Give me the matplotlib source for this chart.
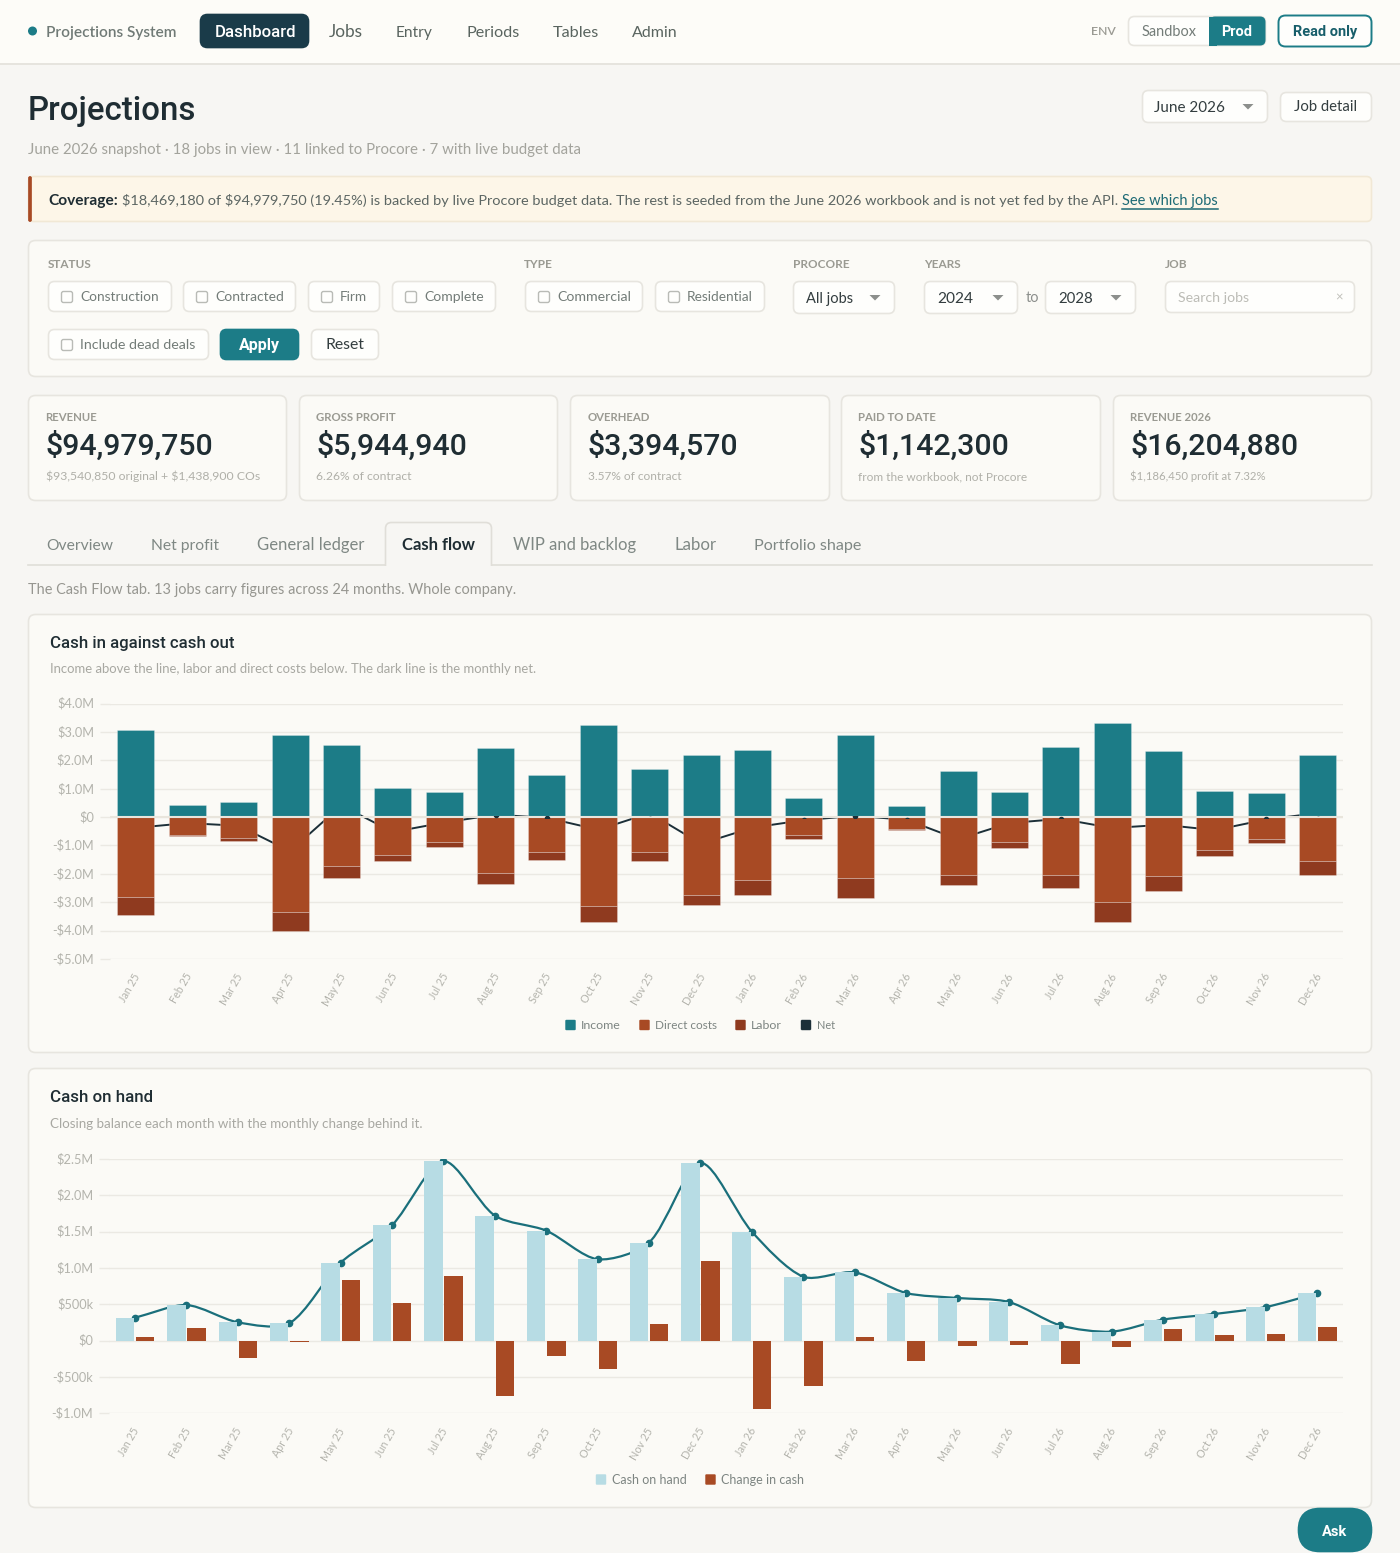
import matplotlib
matplotlib.use("Agg")
import matplotlib.pyplot as plt
from matplotlib.patches import FancyBboxPatch, Rectangle, Circle, Polygon
from matplotlib.path import Path
from matplotlib.patches import PathPatch
from matplotlib.transforms import ScaledTranslation

# ---------- data ----------
months = ["Jan 25","Feb 25","Mar 25","Apr 25","May 25","Jun 25","Jul 25","Aug 25","Sep 25","Oct 25","Nov 25","Dec 25",
          "Jan 26","Feb 26","Mar 26","Apr 26","May 26","Jun 26","Jul 26","Aug 26","Sep 26","Oct 26","Nov 26","Dec 26"]
income = [3.08,0.435,0.53,2.88,2.56,1.035,0.88,2.445,1.48,3.245,1.69,2.175,
          2.36,0.67,2.89,0.376,1.62,0.88,2.457,3.316,2.33,0.917,0.835,2.187]
direct_costs = [-2.80,-0.63,-0.74,-3.36,-1.74,-1.35,-0.87,-1.96,-1.235,-3.15,-1.235,-2.73,
                -2.21,-0.647,-2.15,-0.41,-2.045,-0.894,-2.045,-3.0,-2.08,-1.15,-0.776,-1.564]
labor = [-0.657,-0.02,-0.095,-0.66,-0.39,-0.21,-0.20,-0.40,-0.27,-0.54,-0.315,-0.385,
         -0.52,-0.129,-0.695,-0.06,-0.355,-0.196,-0.471,-0.70,-0.52,-0.226,-0.141,-0.482]
net = [-0.377,-0.21,-0.305,-1.2,0.41,-0.525,-0.19,0.085,-0.025,-0.445,0.14,-0.94,
       -0.37,-0.106,0.045,-0.094,-0.78,-0.21,-0.06,-0.384,-0.27,-0.459,-0.082,0.141]
cash_on_hand = [0.316,0.49,0.252,0.238,1.073,1.59,2.47,1.72,1.514,1.12,1.35,2.445,
                1.5,0.88,0.94,0.656,0.587,0.532,0.21,0.124,0.289,0.367,0.463,0.651]
change_in_cash = [0.05,0.17,-0.238,-0.012,0.83,0.514,0.885,-0.76,-0.206,-0.394,0.225,1.09,
                  -0.945,-0.62,0.05,-0.28,-0.073,-0.06,-0.32,-0.092,0.16,0.078,0.096,0.183]
ticks_top = [4,3,2,1,0,-1,-2,-3,-4,-5]
ticklabels_top = ["$4.0M","$3.0M","$2.0M","$1.0M","$0","-$1.0M","-$2.0M","-$3.0M","-$4.0M","-$5.0M"]
ticks_bottom = [2.5,2,1.5,1,0.5,0,-0.5,-1]
ticklabels_bottom = ["$2.5M","$2.0M","$1.5M","$1.0M","$500k","$0","-$500k","-$1.0M"]

# ---------- styles ----------
PAGE = "#f7f6f3"; HEAD = "#fdfcf8"; CARD = "#fbfaf6"; WHITE = "#fefefc"; BORDER = "#e7e5df"
TEAL = "#1c7c87"; NAVY = "#1a3b49"; RUST = "#a84a24"; LABOR = "#8f3a1f"; LIGHT = "#b7dce4"
INK = "#1f2d33"; MID = "#6f7a76"; SOFT = "#a3a39c"; GRID = "#ebe9e3"; TICK = "#b4b4ad"
BODY = "Lato"; HEADF = "Roboto"

W, H = 1400, 1553
fig = plt.figure(figsize=(W/100, H/100), dpi=100, facecolor=PAGE)
ui = fig.add_axes([0, 0, 1, 1], zorder=0)
ui.set_xlim(0, W); ui.set_ylim(H, 0); ui.axis("off")
rend = fig.canvas.get_renderer()

def box(x0, y0, x1, y1, fc=WHITE, ec=BORDER, r=6, lw=1.2, z=1):
    x0 += .5; y0 += .5; x1 -= .5; y1 -= .5
    ui.add_patch(FancyBboxPatch((x0+r, y0+r), x1-x0-2*r, y1-y0-2*r,
                                boxstyle=f"round,pad={r},rounding_size={r}",
                                fc=fc, ec=ec, lw=lw, zorder=z))

def txt(x, y, s, px=15, c=MID, w="normal", f=BODY, ha="left", z=5, fit=None):
    t = ui.text(x, y + 0.36*px, s, fontsize=px*0.72, color=c, fontweight=w, family=f,
                ha=ha, va="baseline", zorder=z, parse_math=False)
    if fit:
        k = fit / t.get_window_extent(rend).width
        t.set_fontsize(px*0.72*k)
    return t

def caret(cx, cy, c="#8c8f8c"):
    ui.add_patch(Polygon([(cx-5.5, cy-2.5), (cx+5.5, cy-2.5), (cx, cy+3)], fc=c, ec="none", zorder=5))

# header
ui.add_patch(Rectangle((0, 0), W, 63, fc=HEAD, ec="none", zorder=0.5))
ui.plot([0, W], [63.5, 63.5], color="#e6e4de", lw=1.4, zorder=1)
ui.add_patch(Circle((32.5, 31), 4.5, fc=TEAL, ec="none", zorder=2))
txt(46, 31.5, "Projections System", 15.5, "#707a76", "semibold", BODY, fit=131)
box(200, 14, 309, 48, fc=NAVY, ec=NAVY, r=7)
txt(255, 31, "Dashboard", 17, "#ffffff", "medium", HEADF, ha="center", fit=81)
for x, s, wd in [(329, "Jobs", 34), (396, "Entry", 37), (467, "Periods", 53), (553, "Tables", 46), (632, "Admin", 46)]:
    txt(x, 31, s, 17, "#59645f", "normal", BODY, fit=wd)
txt(1091, 31, "ENV", 11.5, "#9a9a93", "semibold", BODY, fit=25)
box(1128, 16, 1266, 46, fc=WHITE, r=6)
ui.add_patch(FancyBboxPatch((1215, 22), 45, 18, boxstyle="round,pad=5.5,rounding_size=5.5", fc=TEAL, ec="none", zorder=2))
ui.add_patch(Rectangle((1209, 16.5), 8, 29, fc=TEAL, ec="none", zorder=2))
txt(1169, 31, "Sandbox", 14.5, "#737c78", "normal", BODY, ha="center", fit=55)
txt(1237, 31, "Prod", 14.5, "#ffffff", "bold", HEADF, ha="center", fit=31)
box(1278, 15, 1372, 47, fc=WHITE, ec=TEAL, r=7, lw=1.4)
txt(1325, 31, "Read only", 15, "#175e6a", "bold", HEADF, ha="center", fit=64)

# title row
txt(28, 108, "Projections", 32, INK, "medium", HEADF, fit=168)
txt(28, 148, "June 2026 snapshot · 18 jobs in view · 11 linked to Procore · 7 with live budget data", 16, SOFT, fit=551)
box(1142, 90, 1268, 123, fc=WHITE, r=6)
txt(1154, 106.5, "June 2026", 16, "#333d3f", fit=71)
caret(1248, 106.5)
box(1280, 92, 1372, 122, fc=WHITE, r=6)
txt(1326, 106, "Job detail", 15, "#333d3f", ha="center", fit=63)

# coverage banner
box(28, 176, 1372, 222, fc="#fdf6e8", ec="#f1e8d5", r=5)
box(28, 176, 32, 222, fc=RUST, ec=RUST, r=1.5, lw=0.5, z=2)
txt(48, 199.5, "Coverage:", 15.5, INK, "bold", fit=70)
txt(122.5, 199.5, "$18,469,180 of $94,979,750 (19.45%) is backed by live Procore budget data. The rest is seeded from the June 2026 workbook and is not yet fed by the API.", 15, "#5c6663", fit=995)
txt(1122, 199.5, "See which jobs", 15, "#1d6a75", fit=96)
ui.plot([1122, 1218], [208.5, 208.5], color="#1d6a75", lw=1.1, zorder=5)

# filter card
box(28, 240, 1372, 377, fc=CARD, r=7)
for x, s in [(48, "STATUS"), (524, "TYPE"), (793, "PROCORE"), (924, "YEARS"), (1165, "JOB")]:
    txt(x, 263.5, s, 11.8, "#9a9a92", "bold")
chips = [(48, 172, 281, 312, "Construction", 79), (183, 296, 281, 312, "Contracted", 69), (308, 380, 281, 312, "Firm", 27),
         (392, 496, 281, 312, "Complete", 60), (525, 643, 281, 312, "Commercial", 74), (655, 765, 281, 312, "Residential", 66),
         (48, 209, 329, 360, "Include dead deals", 116)]
for x0, x1, y0, y1, s, wd in chips:
    box(x0, y0, x1, y1, fc=WHITE, r=6)
    cy = (y0+y1)/2 + 0.5
    box(x0+13, cy-6, x0+25, cy+6, fc=WHITE, ec="#b9bbb6", r=2, lw=1, z=2)
    txt(x0+32, cy-1, s, 14.8, "#737c78", fit=wd)
box(220, 329, 299, 360, fc=TEAL, ec=TEAL, r=6)
txt(259.5, 344, "Apply", 16, "#ffffff", "bold", HEADF, ha="center", fit=41)
box(311, 329, 379, 360, fc=WHITE, r=6)
txt(345, 344, "Reset", 15, "#333d3f", ha="center", fit=39)
for x0, x1, s, tx, cx, wd in [(793, 895, "All jobs", 806, 875, 47), (924, 1018, "2024", 937, 998, 36), (1045, 1136, "2028", 1058, 1116, 35)]:
    box(x0, 281, x1, 314, fc=WHITE, r=6)
    txt(tx, 297.5, s, 15.5, "#333d3f", fit=wd)
    caret(cx, 297.5)
txt(1032, 297, "to", 14.5, "#8c8f8c", ha="center")
box(1165, 281, 1355, 313, fc=WHITE, r=6)
txt(1178, 297, "Search jobs", 14.5, "#bcbcb6", fit=71)
txt(1339, 297, "×", 13, "#c0c0ba", ha="center")

# KPI cards
kpis = [(28, 287, "REVENUE", "$94,979,750", "$93,540,850 original + $1,438,900 COs", 217),
        (299, 558, "GROSS PROFIT", "$5,944,940", "6.26% of contract", 96),
        (570, 830, "OVERHEAD", "$3,394,570", "3.57% of contract", 94),
        (841, 1101, "PAID TO DATE", "$1,142,300", "from the workbook, not Procore", 169),
        (1113, 1372, "REVENUE 2026", "$16,204,880", "$1,186,450 profit at 7.32%", 137)]
for x0, x1, a, b, c, wc in kpis:
    box(x0, 395, x1, 501, fc=CARD, r=7)
    txt(x0+17.5, 416.5, a, 11.4, "#9a9a92", "bold")
    txt(x0+17.5, 443.5, b, 30.2, INK, "medium", HEADF)
    txt(x0+17.5, 475.5, c, 13.2, "#b0b0a9", fit=wc)

# tabs
ui.plot([28, 1372], [565, 565], color="#e0ded8", lw=1.2, zorder=1)
box(385, 522, 492, 575, fc=PAGE, ec="#e0ded8", r=6, z=1.2)
ui.add_patch(Rectangle((384, 565.7), 110, 12, fc=PAGE, ec="none", zorder=1.3))
for x, s, wd in [(46, "Overview", 67), (151, "Net profit", 68), (257, "General ledger", 107), (513, "WIP and backlog", 123), (674, "Labor", 42), (754, "Portfolio shape", 108)]:
    txt(x, 544.5, s, 16, "#7f8884", fit=wd)
txt(402, 544.5, "Cash flow", 16, INK, "bold", fit=73)
txt(28, 589, "The Cash Flow tab. 13 jobs carry figures across 24 months. Whole company.", 15, "#969690", fit=488)

# chart cards
box(28, 614, 1372, 1053, fc=CARD, r=7)
box(28, 1068, 1372, 1508, fc=CARD, r=7)
txt(50, 642, "Cash in against cash out", 18, INK, "medium", HEADF, fit=184)
txt(50, 668.5, "Income above the line, labor and direct costs below. The dark line is the monthly net.", 13.5, "#a8a8a2", fit=493)
txt(50, 1096, "Cash on hand", 18, INK, "medium", HEADF, fit=103)
txt(50, 1123, "Closing balance each month with the monthly change behind it.", 13.5, "#a8a8a2", fit=374)

def legend(items, y):
    for sx, tx, c, s, wd in items:
        box(sx, y-5.5, sx+11, y+5.5, fc=c, ec=c, r=1, lw=0.3, z=3)
        txt(tx, y-0.5, s, 12.5, "#7d8582", fit=wd)
legend([(565, 581, TEAL, "Income", 40), (639, 655, RUST, "Direct costs", 62), (735, 751, LABOR, "Labor", 31), (800.5, 817, "#1c2f38", "Net", 18)], 1025)
legend([(595.5, 612, LIGHT, "Cash on hand", 75), (705, 721, RUST, "Change in cash", 83)], 1479.5)

# Ask
box(1298, 1508, 1372, 1552, fc=TEAL, ec=TEAL, r=21.5)
txt(1335, 1530, "Ask", 16, "#ffffff", "bold", HEADF, ha="center", fit=25)

# ---------- charts ----------
def make_axes(l, r, t, b, ymin, ymax, ticks, labels):
    ax = fig.add_axes([l/W, 1-b/H, (r-l)/W, (b-t)/H], zorder=2)
    ax.patch.set_alpha(0)
    ax.set_xlim(-0.5, 23.5); ax.set_ylim(ymin, ymax)
    for sp in ax.spines.values():
        sp.set_visible(False)
    ax.set_yticks(ticks); ax.set_yticklabels(labels, family=BODY, fontsize=12.7*0.72, color=TICK, parse_math=False)
    ax.tick_params(axis="y", length=7.2, width=1, color=GRID, pad=4.5)
    ax.grid(axis="y", color=GRID, lw=1, zorder=0)
    ax.set_axisbelow(True)
    ax.set_xticks(range(24))
    ax.set_xticklabels(months, family=BODY, fontsize=10.8*0.72, color=TICK, rotation=60, ha="right",
                       rotation_mode="anchor", va="top")
    ax.tick_params(axis="x", length=0, pad=9)
    shift = ScaledTranslation(-3/72*0.72, 0, fig.dpi_scale_trans)
    for lab in ax.get_xticklabels():
        lab.set_transform(lab.get_transform() + shift)
    up = ScaledTranslation(0, 1/72*0.72, fig.dpi_scale_trans)
    for lab in ax.get_yticklabels():
        lab.set_transform(lab.get_transform() + up)
    return ax

def spline(ax_w, ax_h, ax, xs, ys, tension):
    # cubic segments in pixel-aware space, the form of a tensioned line chart
    sx = ax_w/(ax.get_xlim()[1]-ax.get_xlim()[0]); sy = ax_h/(ax.get_ylim()[1]-ax.get_ylim()[0])
    n = len(xs); before = []; after = []
    for i in range(n):
        p = i-1 if i > 0 else i; q = i+1 if i < n-1 else i
        d01 = ((xs[i]-xs[p])**2*sx**2+(ys[i]-ys[p])**2*sy**2)**0.5
        d12 = ((xs[q]-xs[i])**2*sx**2+(ys[q]-ys[i])**2*sy**2)**0.5
        tot = d01+d12
        fa = tension*d01/tot; fb = tension*d12/tot
        before.append((xs[i]-fa*(xs[q]-xs[p]), ys[i]-fa*(ys[q]-ys[p])))
        after.append((xs[i]+fb*(xs[q]-xs[p]), ys[i]+fb*(ys[q]-ys[p])))
    v = [(xs[0], ys[0])]; c = [Path.MOVETO]
    for i in range(n-1):
        v += [after[i], before[i+1], (xs[i+1], ys[i+1])]; c += [Path.CURVE4]*3
    return Path(v, c)

xs = list(range(24))

# top chart
L1, R1, T1, B1 = 110.2, 1343.4, 703.7, 958.9
ax1 = make_axes(L1, R1, T1, B1, -5, 4, ticks_top, ticklabels_top)
ax1.plot(xs, net, color="#1c2f38", lw=1.4, marker="o", ms=3, zorder=2)
edge = (1, 1, 1, 0.25)
ax1.bar(xs, income, width=0.72, color=TEAL, edgecolor=edge, lw=0.7, zorder=3)
ax1.bar(xs, direct_costs, width=0.72, color=RUST, edgecolor=edge, lw=0.7, zorder=3)
ax1.bar(xs, labor, width=0.72, bottom=direct_costs, color=LABOR, edgecolor=edge, lw=0.7, zorder=3)
ax1.axhline(0, color="#e9e5dc", lw=1.5, zorder=4)
dots = ax1.plot(xs, net, ls="none", marker="o", ms=3, color="#1c2f38", zorder=5)[0]
dots.set_clip_path(Rectangle((-0.5, -0.03), 24, 0.06, transform=ax1.transData))

# bottom chart
L2, R2, T2, B2 = 109.4, 1342.9, 1159, 1413.3
ax2 = make_axes(L2, R2, T2, B2, -1, 2.5, ticks_bottom, ticklabels_bottom)
ax2.add_patch(PathPatch(spline(R2-L2, B2-T2, ax2, xs, cash_on_hand, 0.28), fc="none", ec="#1a6f7b", lw=1.6, zorder=2))
ax2.plot(xs, cash_on_hand, ls="none", marker="o", ms=4.5, color="#1a6f7b", zorder=2)
off = 0.197
ax2.bar([x-off for x in xs], cash_on_hand, width=0.36, color=LIGHT, zorder=3)
ax2.bar([x+off for x in xs], change_in_cash, width=0.36, color=RUST, zorder=3)

fig.savefig("out.png", dpi=100, facecolor=PAGE)
